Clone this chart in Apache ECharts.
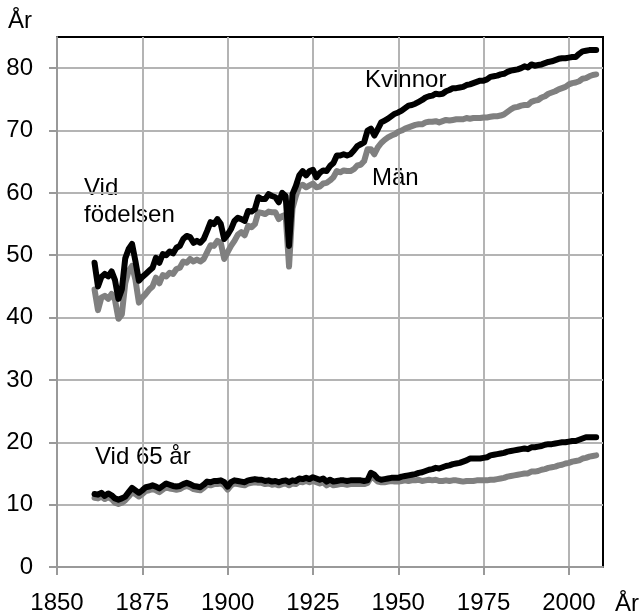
<!DOCTYPE html>
<html>
<head>
<meta charset="utf-8">
<script src="https://cdn.jsdelivr.net/npm/echarts@6/dist/echarts.min.js"></script>
<style>
  body { margin: 0; background: #fff; }
  #chart { width: 643px; height: 615px; }
</style>
</head>
<body>
<div id="chart"></div>
<script>
// medellivslängd 1861-2008, ett värde per år
const startYear = 1861
const years = []
for (let i = 0; i < 148; i++) years.push(startYear + i)

const kvinnorFodelse = [
  48.8, 45.0, 46.5, 47.0, 46.6, 47.4, 46.0, 43.0, 44.5, 49.5,
  51.0, 51.8, 49.0, 45.9, 46.5, 47.0, 47.5, 48.0, 49.6, 48.8,
  50.2, 50.0, 50.6, 50.3, 51.2, 51.5, 52.6, 53.1, 52.9, 52.0,
  52.3, 52.0, 52.6, 53.9, 55.3, 55.0, 55.8, 55.0, 52.6, 53.3,
  54.2, 55.5, 56.0, 55.8, 55.5, 57.1, 57.0, 57.4, 59.3, 59.0,
  59.0, 59.8, 59.5, 59.3, 58.5, 60.0, 59.5, 51.5, 59.8, 61.1,
  62.8, 63.5, 62.8, 63.5, 63.7, 62.5, 63.2, 63.6, 63.5, 64.3,
  64.8, 66.0, 66.0, 66.2, 66.0, 66.2, 66.8, 67.5, 67.8, 68.1,
  70.0, 70.3, 69.2, 70.2, 71.3, 71.6, 71.9, 72.3, 72.7, 72.9,
  73.2, 73.6, 74.0, 74.1, 74.3, 74.6, 74.9, 75.3, 75.5, 75.6,
  75.9, 75.8, 75.9, 76.3, 76.5, 76.8, 76.8, 76.9, 77.0, 77.3,
  77.4, 77.6, 77.8, 78.0, 78.0, 78.2, 78.6, 78.7, 78.8, 79.0,
  79.1, 79.4, 79.6, 79.7, 79.8, 80.0, 80.3, 80.1, 80.6, 80.4,
  80.5, 80.6, 80.8, 81.0, 81.1, 81.3, 81.5, 81.6, 81.6, 81.7,
  81.8, 81.8, 82.3, 82.7, 82.8, 82.9, 82.9, 82.9
]
const manFodelse = [
  44.5, 41.2, 43.2, 43.5, 43.0, 43.8, 42.8, 39.8, 40.5, 45.5,
  47.5, 48.3, 46.0, 42.4, 43.2, 43.8, 44.5, 45.0, 46.4, 45.5,
  46.8, 46.6, 47.2, 47.0, 47.8, 48.0, 49.0, 48.8, 49.4, 49.0,
  49.3, 49.0, 49.4, 50.5, 51.6, 51.5, 52.3, 52.0, 49.4, 50.5,
  51.5, 52.3, 53.3, 53.7, 53.2, 54.7, 54.5, 55.0, 56.9, 56.8,
  56.6, 57.0, 56.9, 56.9, 55.8, 56.3, 56.5, 48.2, 57.5, 59.5,
  61.1, 61.3, 60.9, 61.2, 61.5, 60.9, 61.0, 61.5, 61.6, 62.0,
  62.5, 63.5, 63.3, 63.6, 63.5, 63.5, 63.8, 64.4, 64.5, 65.1,
  67.0, 67.0, 66.2, 67.3, 68.0, 68.5, 68.9, 69.2, 69.4, 69.8,
  70.0, 70.3, 70.5, 70.7, 70.9, 71.0, 71.0, 71.3, 71.4, 71.4,
  71.5, 71.3, 71.5, 71.7, 71.6, 71.7, 71.8, 71.8, 71.8, 72.0,
  71.9, 72.0, 72.0, 72.0, 72.1, 72.1, 72.2, 72.3, 72.3, 72.4,
  72.6, 73.0, 73.4, 73.7, 73.8, 74.0, 74.1, 74.1, 74.6, 74.8,
  74.9, 75.3, 75.5, 75.9, 76.1, 76.3, 76.6, 76.8, 77.0, 77.4,
  77.6, 77.7, 77.9, 78.3, 78.4, 78.7, 78.9, 79.0
]
const kvinnor65 = [
  11.7, 11.6, 11.9, 11.4, 11.8, 11.5, 11.0, 10.8, 11.0, 11.3,
  12.0, 12.7, 12.3, 11.9, 12.3, 12.8, 12.9, 13.1, 12.9, 12.6,
  13.0, 13.4, 13.2, 13.0, 12.9, 13.0, 13.3, 13.5, 13.3, 13.0,
  12.9, 12.8, 13.2, 13.7, 13.6, 13.8, 13.8, 13.9, 13.6, 12.9,
  13.6, 13.9, 13.8, 13.7, 13.6, 13.9, 14.0, 14.1, 14.0, 14.0,
  13.8, 13.9, 13.7, 13.8, 13.6, 13.8, 13.9, 13.6, 13.9, 13.8,
  14.2, 14.1, 14.3, 14.1, 14.4, 14.2, 14.0, 14.2, 13.7, 14.0,
  13.7, 13.8, 13.9, 13.9, 13.8, 13.9, 13.9, 13.9, 13.9, 13.8,
  13.9, 15.1, 14.8, 14.2, 14.0, 14.1, 14.2, 14.3, 14.3, 14.3,
  14.5, 14.6, 14.7, 14.8, 14.9, 15.1, 15.2, 15.4, 15.6, 15.7,
  15.9, 15.8, 16.0, 16.2, 16.3, 16.5, 16.6, 16.7, 16.9, 17.1,
  17.4, 17.4, 17.4, 17.4, 17.5, 17.6, 17.9, 18.0, 18.1, 18.2,
  18.3, 18.5, 18.6, 18.7, 18.8, 18.9, 19.0, 18.9, 19.2, 19.2,
  19.3, 19.4, 19.6, 19.7, 19.7, 19.8, 19.9, 20.0, 20.0, 20.1,
  20.2, 20.2, 20.4, 20.6, 20.8, 20.8, 20.8, 20.8
]
const man65 = [
  11.1, 11.0, 11.3, 10.9, 11.2, 10.9, 10.3, 10.1, 10.3, 10.7,
  11.3, 12.0, 11.7, 11.3, 11.7, 12.2, 12.3, 12.5, 12.3, 12.0,
  12.4, 12.8, 12.6, 12.5, 12.4, 12.5, 12.8, 13.0, 12.8, 12.5,
  12.4, 12.3, 12.7, 13.2, 13.1, 13.3, 13.3, 13.4, 13.1, 12.4,
  13.1, 13.4, 13.3, 13.2, 13.1, 13.4, 13.5, 13.6, 13.5, 13.5,
  13.3, 13.4, 13.2, 13.3, 13.1, 13.3, 13.4, 13.1, 13.4, 13.3,
  13.7, 13.6, 13.8, 13.6, 13.8, 13.6, 13.4, 13.6, 13.1, 13.4,
  13.1, 13.2, 13.3, 13.3, 13.2, 13.3, 13.3, 13.3, 13.3, 13.3,
  13.5, 14.4, 14.2, 13.7, 13.6, 13.6, 13.7, 13.8, 13.7, 13.7,
  13.8, 13.9, 13.8, 13.9, 13.9, 14.0, 13.8, 13.9, 14.0, 13.9,
  14.0, 13.8, 13.8, 13.9, 13.8, 13.9, 13.9, 13.8, 13.7, 13.8,
  13.8, 13.8, 13.9, 13.9, 13.9, 13.9, 14.0, 14.0, 14.1, 14.2,
  14.3, 14.5, 14.6, 14.7, 14.8, 14.9, 15.0, 15.0, 15.3, 15.3,
  15.4, 15.6, 15.7, 15.9, 16.0, 16.1, 16.3, 16.4, 16.6, 16.7,
  16.9, 17.0, 17.1, 17.4, 17.5, 17.7, 17.8, 17.9
]

const xTicks = [1850, 1875, 1900, 1925, 1950, 1975, 2000]
const yTicks = [0, 10, 20, 30, 40, 50, 60, 70, 80]

const font = '"Liberation Sans", Arial, sans-serif'

function pairs(values) {
  return years.map((y, i) => [y, values[i]])
}

function line(values, color) {
  return {
    type: 'line',
    data: pairs(values),
    showSymbol: false,
    symbol: 'none',
    silent: true,
    lineStyle: { color: color, width: 6, join: 'round', cap: 'round' }
  }
}

function note(text, left, top) {
  return {
    type: 'text',
    left: left,
    top: top,
    style: { text: text, font: '24px ' + font, fill: '#000', lineHeight: 27 }
  }
}

let mychart = echarts.init(document.getElementById('chart'), null, { renderer: 'canvas' })
mychart.setOption({
  animation: false,
  backgroundColor: '#fff',
  grid: {
    left: 57, right: 40, top: 37, bottom: 48,
    show: true, borderColor: '#000', borderWidth: 2
  },
  xAxis: {
    type: 'value',
    min: 1850, max: 2010, interval: 25,
    axisLine: { show: true, lineStyle: { color: '#999', width: 2 } },
    axisTick: { show: true, length: 8, lineStyle: { color: '#999', width: 2 }, customValues: xTicks },
    axisLabel: {
      customValues: xTicks, margin: 24, fontSize: 24, color: '#000', fontFamily: font,
      formatter: v => String(v)
    },
    splitLine: { show: true, lineStyle: { color: '#b4b4b4', width: 2 } }
  },
  yAxis: {
    type: 'value',
    min: 0, max: 85, interval: 10,
    axisLine: { show: true, lineStyle: { color: '#999', width: 2 } },
    axisTick: { show: true, length: 8, lineStyle: { color: '#999', width: 2 }, customValues: yTicks },
    axisLabel: {
      customValues: yTicks, margin: 24, fontSize: 24, color: '#000', fontFamily: font,
      align: 'right'
    },
    splitLine: { show: true, lineStyle: { color: '#b4b4b4', width: 2 } }
  },
  graphic: [
    note('År', 8, 8),
    note('År', 615, 591),
    note('Vid\nfödelsen', 84, 175),
    note('Kvinnor', 365, 67),
    note('Män', 372, 165),
    note('Vid 65 år', 95, 444)
  ],
  series: [
    line(manFodelse, '#808080'),
    line(kvinnorFodelse, '#000'),
    line(man65, '#808080'),
    line(kvinnor65, '#000')
  ]
})
</script>
</body>
</html>
